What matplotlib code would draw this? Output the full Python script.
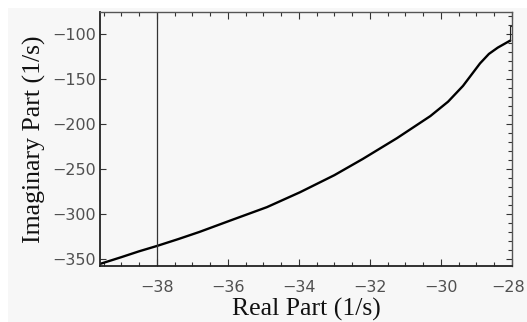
import numpy as np
import matplotlib.pyplot as plt
import matplotlib.transforms as mtransforms
from matplotlib.patches import Rectangle
from matplotlib.ticker import MultipleLocator, FuncFormatter

# root locus branch: real part vs imaginary part (1/s)
real_part = [-39.6, -39.0, -38.5, -38.0, -37.4, -36.8, -35.9, -34.9, -33.97,
             -33.0, -32.2, -31.24, -30.3, -29.8, -29.38, -28.9, -28.65, -28.4, -28.05]
imag_part = [-355.5, -348.0, -341.5, -335.6, -328.0, -320.0, -306.9, -292.5, -276.0,
             -257.0, -239.0, -216.0, -191.5, -175.5, -158.0, -133.0, -122.5, -115.5, -107.7]

# small jump at the end of the branch
tail_real = [-28.05, -28.05, -28.0, -28.0]
tail_imag = [-107.7, -91.0, -91.0, -107.0]

marker_real = -38.0

x_ticks = [-38, -36, -34, -32, -30, -28]
y_ticks = [-350, -300, -250, -200, -150, -100]

bg = '#f7f7f7'

fig = plt.figure(figsize=(5.27, 3.22), dpi=100)
fig.patch.set_facecolor('white')
fig.patches.append(Rectangle((8 / 527, 0), 1, 1 - 8 / 322, transform=fig.transFigure,
                             facecolor=bg, edgecolor='none', zorder=-10))

ax = fig.add_axes([100 / 527, 56 / 322, 412 / 527, 254 / 322])
ax.set_facecolor(bg)

ax.plot(real_part, imag_part, color='black', lw=1.7, solid_capstyle='round',
        solid_joinstyle='round')
ax.plot(tail_real, tail_imag, color='#222222', lw=0.8)
ax.axvline(marker_real, color='#333333', lw=0.9)

ax.set_xlim(-39.6, -28.0)
ax.set_ylim(-357.8, -76.0)

ax.set_xticks(x_ticks)
ax.set_yticks(y_ticks)
ax.xaxis.set_minor_locator(MultipleLocator(0.5))
ax.yaxis.set_minor_locator(MultipleLocator(10))

fmt = FuncFormatter(lambda v, p: '\u2212' + str(abs(int(round(v)))))
ax.xaxis.set_major_formatter(fmt)
ax.yaxis.set_major_formatter(fmt)

ax.tick_params(axis='x', which='both', direction='in', top=True, bottom=True,
               color='#333333', width=0.8)
ax.tick_params(axis='x', which='major', length=5, pad=10)
ax.tick_params(axis='x', which='minor', length=3)
ax.tick_params(axis='y', which='both', direction='in', left=True, right=True,
               color='#333333', width=0.8)
ax.tick_params(axis='y', which='major', length=4, pad=3)
ax.tick_params(axis='y', which='minor', length=3, left=False)

for lab in ax.get_xticklabels() + ax.get_yticklabels():
    lab.set_fontfamily('DejaVu Sans')
    lab.set_fontsize(11.5)
    lab.set_color('#505050')

# keep the last x label inside the figure edge
last = ax.get_xticklabels()[-1]
last.set_transform(last.get_transform() +
                   mtransforms.ScaledTranslation(-4 / 100, 0, fig.dpi_scale_trans))

for side, sp in ax.spines.items():
    sp.set_color('#222222' if side in ('bottom', 'left') else '#555555')
    sp.set_linewidth(1.3 if side in ('bottom', 'left') else 1.0)

ax.set_xlabel('Real Part (1/s)', family='Liberation Serif', fontsize=18.5,
              color='#111111', labelpad=2.5)
ax.set_ylabel('Imaginary Part (1/s)', family='Liberation Serif', fontsize=18.5,
              color='#111111', labelpad=4)

fig.savefig('out.png', dpi=100, facecolor=fig.get_facecolor())
